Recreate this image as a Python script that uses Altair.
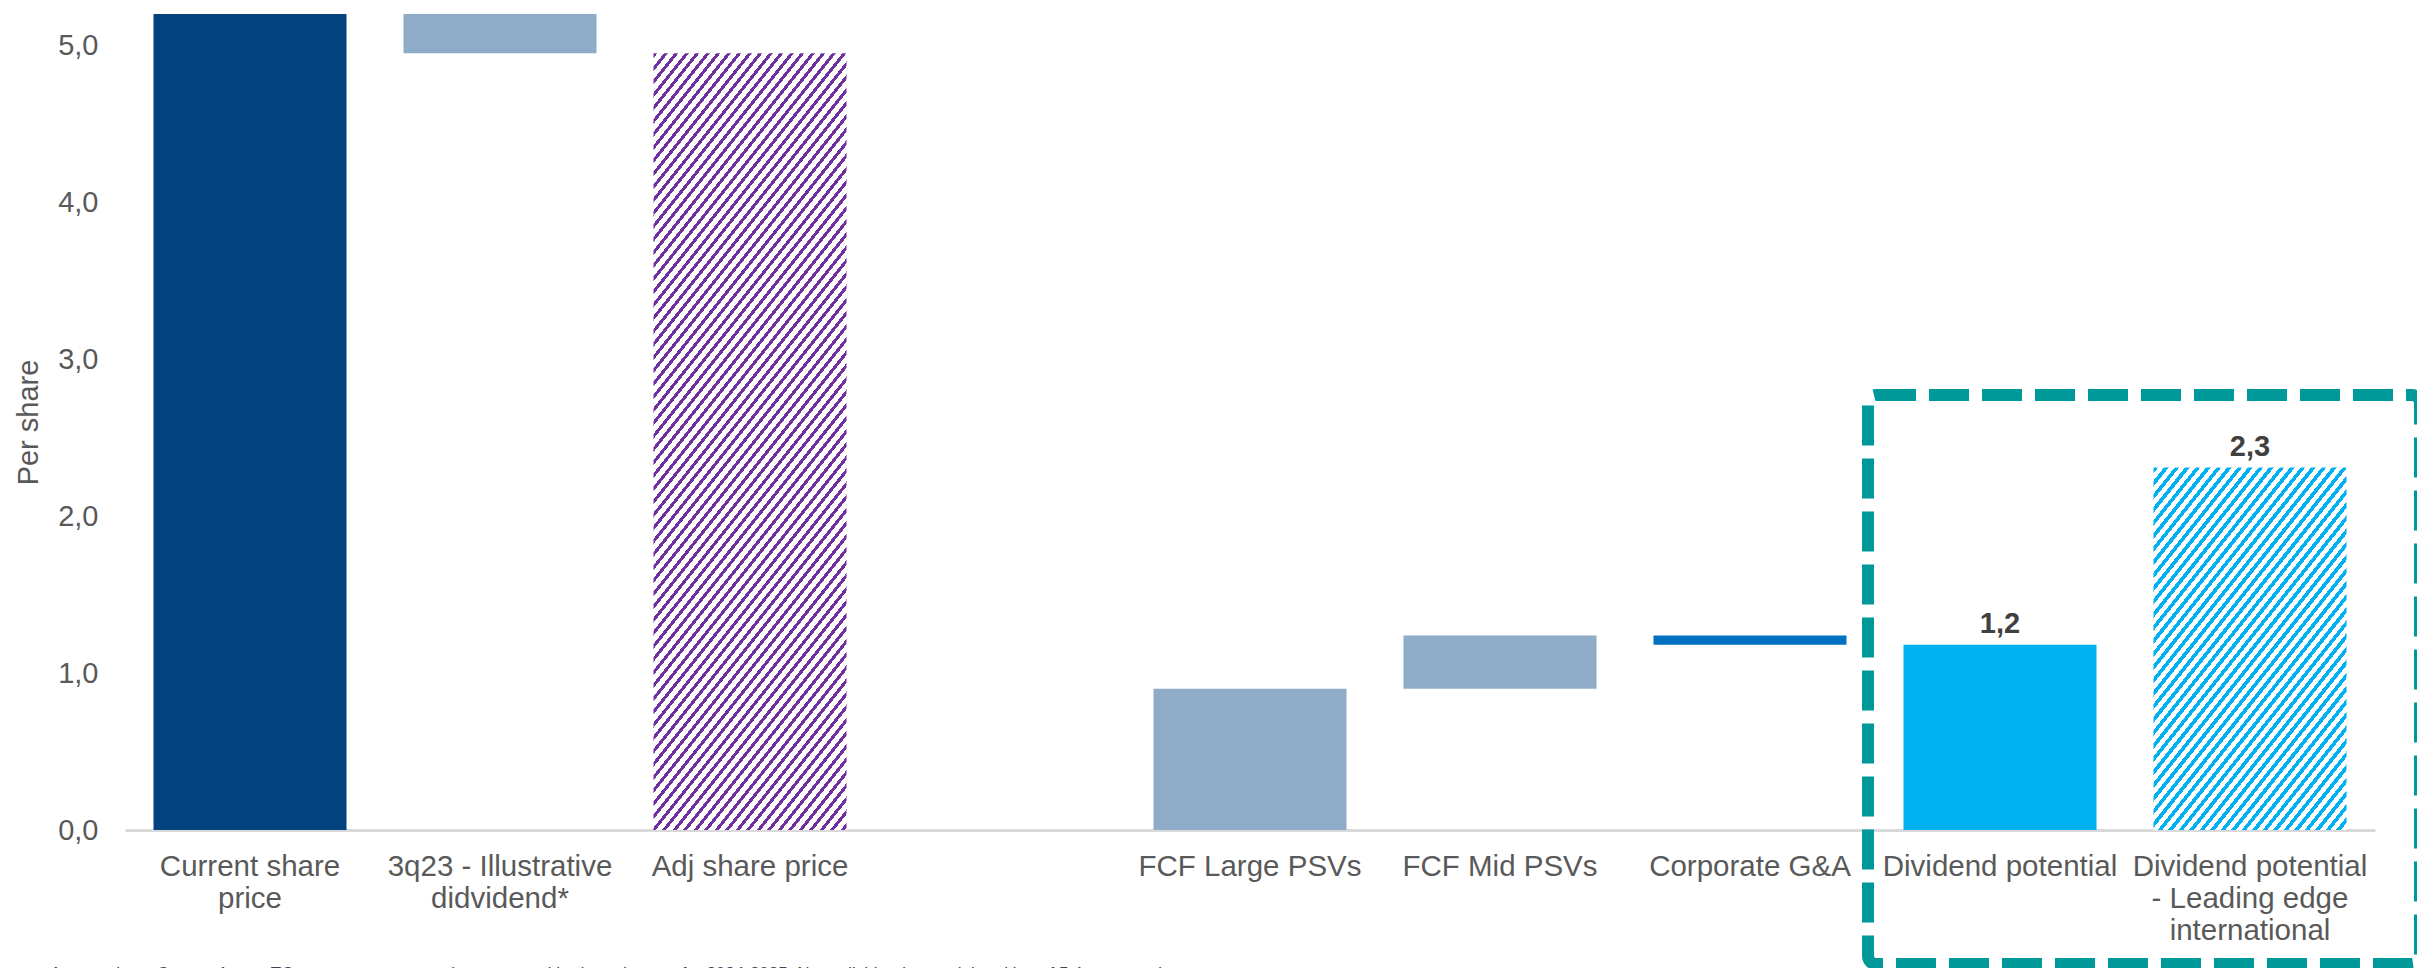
import math
import altair as alt
import pandas as pd

# ---------------- data ----------------
categories = [
    "Current share|price",
    "3q23 - Illustrative|didvidend*",
    "Adj share price",
    " ",
    "FCF Large PSVs",
    "FCF Mid PSVs",
    "Corporate G&A",
    "Dividend potential",
    "Dividend potential|- Leading edge|international",
]
bar_categories = [c for c in categories if c.strip()]
bar_start = [0.0, 5.20, 0.0, 0.0, 0.90, 1.24, 0.0, 0.0]
bar_end = [5.20, 4.95, 4.95, 0.90, 1.24, 1.18, 1.18, 2.31]
bar_kind = ["price", "change", "adjusted", "change", "change", "cost", "dividend", "potential"]
y_ticks = [0, 1, 2, 3, 4, 5]
y_max = 5.2
footnote = ("Assumptions: Current 1-year TC rates, current operating costs and budgeted capex "
            "for 2024-2025. Note: dividend potential ranking of 5.4 years and")

# ---------------- styles ----------------
kind_domain = ["price", "change", "cost", "dividend"]
kind_range = ["#02427E", "#8EABC8", "#0070C0", "#00B0F0"]
FONT = "Liberation Sans"
TEXT_GREY = "#595959"
PLOT_W, PLOT_H = 2250, 816
PAD_INNER, PAD_OUTER = 0.228, 0.114

df = pd.DataFrame({"cat": bar_categories, "start": bar_start, "end": bar_end, "kind": bar_kind})


def hatch(color, value, frac=0.5, h_period=10.5, a=1.0, b=1.25):
    """Diagonal stripe fill built as a hard-stop linear gradient."""
    step = PLOT_W / (len(categories) - PAD_INNER + 2 * PAD_OUTER)
    W = step * (1 - PAD_INNER)
    H = value / y_max * PLOT_H
    norm = math.hypot(a, b)
    period = h_period * b / norm
    D = (b * W + a * H) / norm
    P = period / D
    s = (b * W + a * H) / ((b * W) ** 2 + (a * H) ** 2)
    stops = []
    k = 0
    while k * P < 1:
        t0 = k * P
        t1 = min(t0 + frac * P, 1.0)
        t2 = min((k + 1) * P, 1.0)
        stops += [(t0, color), (t1, color), (t1, "#FFFFFF"), (t2, "#FFFFFF")]
        k += 1
    return alt.LinearGradient(
        gradient="linear", x1=0, y1=0, x2=s * b * W, y2=s * a * H,
        stops=[alt.GradientStop(offset=round(o, 6), color=c) for o, c in stops],
    )


x_enc = alt.X(
    "cat:N",
    sort=categories,
    scale=alt.Scale(domain=categories, paddingInner=PAD_INNER, paddingOuter=PAD_OUTER),
    axis=alt.Axis(
        title=None, labelAngle=0, labelExpr="split(datum.value, '|')",
        labelFont=FONT, labelFontSize=29.5, labelLineHeight=32, labelColor=TEXT_GREY,
        labelPadding=22, labelLimit=400, labelOverlap=False, labelBound=False,
        ticks=False, domain=True, domainColor="#D9D9D9", domainWidth=3, grid=False,
    ),
)
y_enc = alt.Y(
    "start:Q",
    scale=alt.Scale(domain=[0, y_max], nice=False, zero=True),
    axis=alt.Axis(
        values=y_ticks, labelExpr="replace(format(datum.value, '.1f'), '.', ',')",
        labelFont=FONT, labelFontSize=29, labelColor=TEXT_GREY, labelPadding=27,
        ticks=False, domain=False, grid=False,
        title="Per share", titleFont=FONT, titleFontSize=29, titleFontWeight="normal",
        titleColor=TEXT_GREY, titleX=-88, titleY=PLOT_H / 2, titleBaseline="alphabetic",
        titleAlign="center", titleAngle=270,
    ),
)

base = alt.Chart(df)

solid = base.transform_filter(
    alt.FieldOneOfPredicate(field="kind", oneOf=kind_domain)
).mark_bar().encode(
    x=x_enc, y=y_enc, y2="end:Q",
    color=alt.Color("kind:N", scale=alt.Scale(domain=kind_domain, range=kind_range), legend=None),
)

adj_val = bar_end[bar_kind.index("adjusted")]
pot_val = bar_end[bar_kind.index("potential")]

hatch_adj = base.transform_filter(alt.datum.kind == "adjusted").mark_bar(
    fill=hatch("#7030A0", adj_val, frac=0.38)
).encode(x=alt.X("cat:N", sort=categories), y="start:Q", y2="end:Q")

hatch_pot = base.transform_filter(alt.datum.kind == "potential").mark_bar(
    fill=hatch("#00B0F0", pot_val, frac=0.45)
).encode(x=alt.X("cat:N", sort=categories), y="start:Q", y2="end:Q")

value_labels = base.transform_filter(
    alt.FieldOneOfPredicate(field="kind", oneOf=["dividend", "potential"])
).transform_calculate(
    lbl="replace(format(datum.end, '.1f'), '.', ',')"
).mark_text(
    font=FONT, fontSize=29, fontWeight="bold", color="#404040",
    baseline="alphabetic", dy=-12,
).encode(x=alt.X("cat:N", sort=categories), y="end:Q", text="lbl:N")

one = pd.DataFrame({"a": [0]})
box = alt.Chart(one).mark_rect(
    filled=False, stroke="#009999", strokeWidth=12, strokeDash=[40, 13], cornerRadius=8,
).encode(x=alt.value(1743), x2=alt.value(2295), y=alt.value(381), y2=alt.value(950))

note = alt.Chart(one).mark_text(
    text=footnote, font=FONT, fontSize=17, color="#3B4656", align="left", baseline="top",
).encode(x=alt.value(-75), y=alt.value(952))

chart = alt.layer(solid, hatch_adj, hatch_pot, value_labels, box, note).properties(
    width=PLOT_W, height=PLOT_H,
    padding={"left": 117, "top": 6, "right": 42, "bottom": 138},
    autosize=alt.AutoSizeParams(type="none"),
).configure(background="white").configure_view(stroke=None, strokeWidth=0)

chart.save("out.html", embed_options={"renderer": "svg", "actions": False})
